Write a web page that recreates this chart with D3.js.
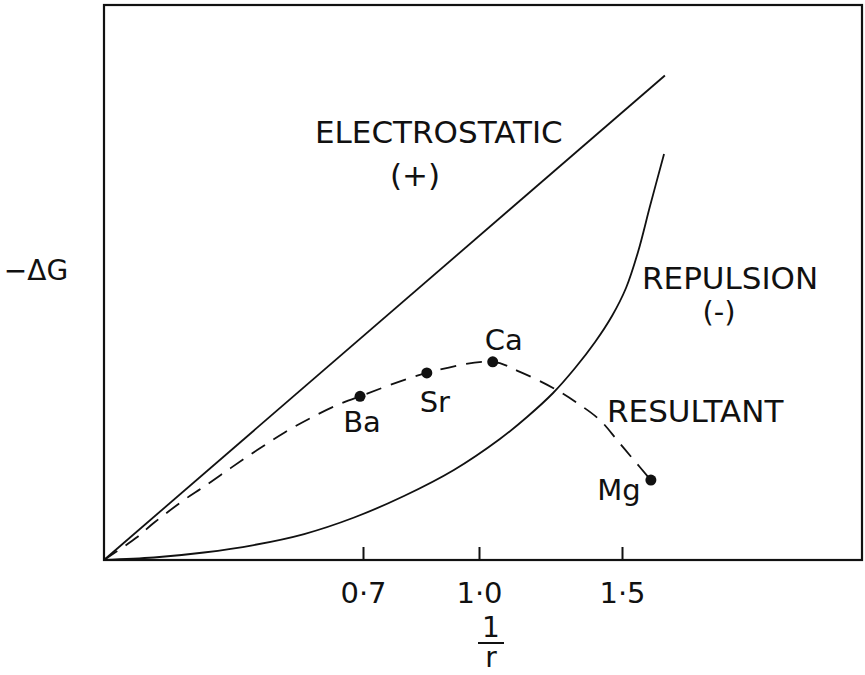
<!DOCTYPE html>
<html>
<head>
<meta charset="utf-8">
<script src="https://cdn.jsdelivr.net/npm/d3@7"></script>
<style>
  body { margin: 0; background: #fff; }
  text { font-family: "DejaVu Sans", sans-serif; fill: #111; }
</style>
</head>
<body>
<script>
// values (1/r on x, -dG in arbitrary units on y)
var xTicks = [0.7, 1.0, 1.5];

var electroX = [0, 1.65];
var electroY = [0, 87.3];

var repulsionX = [0, 0.135, 0.27, 0.405, 0.541, 0.676, 0.806, 0.935, 1.073, 1.168, 1.259, 1.336, 1.406, 1.465, 1.514, 1.556, 1.598, 1.647];
var repulsionY = [0, 0.45, 1.35, 2.70, 4.68, 7.66, 11.53, 16.22, 21.80, 25.77, 30.09, 34.59, 39.28, 43.96, 49.01, 55.50, 63.78, 73.15];

var resultantX = [0, 0.089, 0.135, 0.216, 0.27, 0.343, 0.414, 0.486, 0.559, 0.63, 0.692, 0.865, 1.048, 1.143, 1.259, 1.343, 1.423, 1.483, 1.535, 1.601];
var resultantY = [0, 4.1, 6.7, 10.8, 13.2, 16.6, 19.8, 22.9, 25.6, 27.9, 29.5, 33.7, 35.7, 33.9, 31.0, 28.3, 25.2, 21.6, 18.4, 14.4];

var ions = ["Ba", "Sr", "Ca", "Mg"];
var ionX = [0.692, 0.865, 1.048, 1.601];
var ionY = [29.5, 33.7, 35.7, 14.4];

var w = 865, h = 675;
var padL = 104, padR = 862, padT = 5, padB = 560;

var svg = d3.select("body").append("svg")
    .attr("width", w)
    .attr("height", h);

// the original axis is not evenly spaced, so the scale is piecewise
var x = d3.scaleLinear()
    .domain([0, 0.7, 1.0, 1.5, 2.339])
    .range([padL, 363, 479, 622, padR]);
var y = d3.scaleLinear()
    .domain([0, 100])
    .range([padB, padT]);

var line = d3.line()
    .x(function(d) { return x(d[0]); })
    .y(function(d) { return y(d[1]); });

// frame
svg.append("rect")
    .attr("x", padL).attr("y", padT)
    .attr("width", padR - padL).attr("height", padB - padT)
    .attr("fill", "none").attr("stroke", "#111").attr("stroke-width", 2.2);

// ticks point inwards
var axis = d3.axisBottom(x)
    .tickValues(xTicks)
    .tickSizeInner(-13)
    .tickSizeOuter(0)
    .tickPadding(22)
    .tickFormat(function(d) { return d3.format(".1f")(d).replace(".", "\u00b7"); });
var gx = svg.append("g")
    .attr("transform", "translate(0," + padB + ")")
    .call(axis);
gx.select(".domain").remove();
gx.selectAll(".tick line").attr("stroke", "#111").attr("stroke-width", 2);
gx.selectAll(".tick text")
    .attr("font-size", 29)
    .attr("fill", "#111")
    .style("font-family", "DejaVu Sans, sans-serif");

svg.append("path")
    .datum(d3.zip(electroX, electroY))
    .attr("d", line)
    .attr("fill", "none").attr("stroke", "#111").attr("stroke-width", 1.8);

svg.append("path")
    .datum(d3.zip(repulsionX, repulsionY))
    .attr("d", line.curve(d3.curveCatmullRom))
    .attr("fill", "none").attr("stroke", "#111").attr("stroke-width", 1.8);

svg.append("path")
    .datum(d3.zip(resultantX, resultantY))
    .attr("d", line.curve(d3.curveCatmullRom))
    .attr("fill", "none").attr("stroke", "#111").attr("stroke-width", 1.8)
    .attr("stroke-dasharray", "16,10");

svg.selectAll("circle.ion")
    .data(ions)
    .enter().append("circle")
    .attr("class", "ion")
    .attr("cx", function(d, i) { return x(ionX[i]); })
    .attr("cy", function(d, i) { return y(ionY[i]); })
    .attr("r", 5.5)
    .attr("fill", "#111");

var labelShift = { Ba: [2, 36], Sr: [8, 39], Ca: [11, -12], Mg: [-32, 20] };
svg.selectAll("text.ion")
    .data(ions)
    .enter().append("text")
    .attr("class", "ion")
    .attr("x", function(d, i) { return x(ionX[i]) + labelShift[d][0]; })
    .attr("y", function(d, i) { return y(ionY[i]) + labelShift[d][1]; })
    .attr("text-anchor", "middle")
    .attr("font-size", 29)
    .text(function(d) { return d; });

function label(txt, px, py, anchor, size) {
  svg.append("text")
      .attr("x", px).attr("y", py)
      .attr("text-anchor", anchor || "start")
      .attr("font-size", size || 31)
      .text(txt);
}

label("ELECTROSTATIC", 315, 143);
label("(+)", 415, 186, "middle");
label("REPULSION", 642, 289);
label("(-)", 719, 322, "middle", 29);
label("RESULTANT", 607, 422);
label("\u2212\u0394G", 36, 280, "middle", 28);

// 1/r axis title
label("1", 491, 637, "middle", 28);
svg.append("line")
    .attr("x1", 478).attr("x2", 504)
    .attr("y1", 643).attr("y2", 643)
    .attr("stroke", "#111").attr("stroke-width", 2);
label("r", 491, 667, "middle", 28);
</script>
</body>
</html>
